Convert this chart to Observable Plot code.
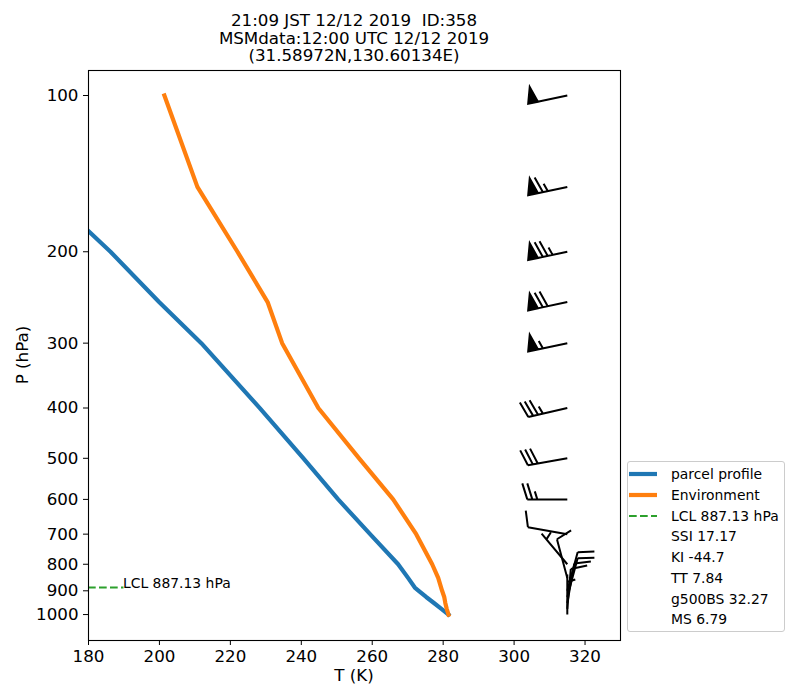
<!DOCTYPE html>
<html>
<head>
<meta charset="utf-8">
<script src="https://cdn.jsdelivr.net/npm/d3@7"></script>
<script src="https://cdn.jsdelivr.net/npm/@observablehq/plot@0.6"></script>
<style>
  body { margin: 0; background: #fff; font-family: "DejaVu Sans", sans-serif; }
  #fig { position: relative; width: 800px; height: 700px; overflow: hidden; background: #fff; }
  #fig svg { position: absolute; left: 0; top: 0; }
  .t { position: absolute; white-space: pre; color: #000; font-family: "DejaVu Sans", sans-serif; }
  .title { left: 0; top: 12px; width: 708px; text-align: center; font-size: 16.7px; line-height: 17.5px; }
  .leg { position: absolute; left: 627px; top: 461px; width: 156px; height: 169px; border: 1px solid #cccccc; border-radius: 3px; background: rgba(255,255,255,0.8); }
  .row { position: absolute; left: 0; height: 20px; line-height: 20px; font-size: 13.9px; white-space: pre; }
  .row svg { position: absolute; left: 5px; top: 0; }
  .row span { position: absolute; left: 43px; top: 0; }
</style>
</head>
<body>
<div id="fig"></div>
<script>
// ---- data ----
const titleLines = ["21:09 JST 12/12 2019  ID:358", "MSMdata:12:00 UTC 12/12 2019", "(31.58972N,130.60134E)"];
const pressure = [1000, 975, 950, 925, 900, 850, 800, 700, 600, 500, 400, 300, 250, 200, 150, 100];
const envT = [281.5, 281.0, 280.6, 280.3, 279.7, 278.6, 276.9, 272.4, 265.9, 256.3, 244.8, 234.6, 230.5, 222.0, 210.7, 201.4];
const parcelP = [1000, 975, 950, 925, 900, 887.13, 850, 800, 700, 600, 500, 400, 300, 250, 200, 150, 100];
const parcelT = [281.5, 279.5, 277.4, 275.2, 273.1, 272.0, 270.1, 267.3, 259.4, 250.4, 240.6, 228.3, 211.8, 199.9, 186.2, 166.8, 140.0];
const windDir = [0, 5, 10, 15, 15, 345, 320, 280, 270, 260, 257, 258, 258, 258, 258, 258];
const windSpd = [5, 10, 10, 10, 10, 10, 5, 10, 25, 30, 35, 55, 70, 75, 65, 50];
const barbT = 315;
const lclP = 887.13;
const lclRangeT = [180, 190];
const lclLabel = "LCL 887.13 hPa";
const indexLabels = ["SSI 17.17", "KI -44.7", "TT 7.84", "g500BS 32.27", "MS 6.79"];
const seriesLabels = ["parcel profile", "Environment"];
const xTicks = [180, 200, 220, 240, 260, 280, 300, 320];
const yTicks = [100, 200, 300, 400, 500, 600, 700, 800, 900, 1000];
const xDomain = [180, 330];
const yDomain = [1122, 89.5];
const colors = { parcel: "#1f77b4", env: "#ff7f0e", lcl: "#2ca02c" };

// ---- tables ----
const envData = pressure.map((p, i) => ({ p, T: envT[i] }));
const parcelData = parcelP.map((p, i) => ({ p, T: parcelT[i] }));
const windData = pressure.map((p, i) => ({ p, dir: windDir[i], spd: windSpd[i] }));

// wind barb shape (matplotlib-like geometry, scaled to staff length)
function barbShape(spd) {
  return {
    draw(ctx, l) {
      const L = l, h = 0.4 * L, w = 0.25 * L, sp = 0.125 * L;
      let n = 5 * Math.floor(spd / 5 + 0.5);
      const flags = Math.floor(n / 50); n -= flags * 50;
      const full = Math.floor(n / 10); n -= full * 10;
      const half = n >= 5;
      ctx.moveTo(0, 0);
      ctx.lineTo(0, -L);
      let off = L;
      for (let i = 0; i < flags; i++) {
        if (off !== L) off += sp / 2;
        ctx.moveTo(0, -off);
        ctx.lineTo(h, -(off - w / 2));
        ctx.lineTo(0, -(off - w));
        ctx.closePath();
        off -= w + sp;
      }
      for (let i = 0; i < full; i++) {
        ctx.moveTo(0, -off);
        ctx.lineTo(h, -(off + w / 2));
        off -= sp;
      }
      if (half) {
        if (off === L) off -= 1.5 * sp;
        ctx.moveTo(0, -off);
        ctx.lineTo(h / 2, -(off + w / 4));
      }
    }
  };
}

const speeds = Array.from(new Set(windSpd));
const barbMarks = speeds.map(s => Plot.vector(windData.filter(d => d.spd === s), {
  x: () => barbT, y: "p", rotate: "dir", length: 40, anchor: "start",
  shape: barbShape(s), stroke: "black", fill: "black", strokeWidth: 2,
  strokeLinejoin: "miter", strokeLinecap: "butt"
}));

const chart = Plot.plot({
  width: 800, height: 700,
  marginLeft: 88, marginRight: 180, marginTop: 70, marginBottom: 60,
  style: { fontFamily: "DejaVu Sans, sans-serif", fontSize: "16.7px", color: "black", background: "transparent", overflow: "visible" },
  x: { domain: xDomain, ticks: xTicks, tickFormat: d => String(d), tickSize: 5, tickPadding: 5, label: null },
  y: { type: "log", domain: yDomain, ticks: yTicks, tickFormat: d => String(d), tickSize: 5, tickPadding: 5, label: null },
  marks: [
    Plot.line(parcelData, { x: "T", y: "p", stroke: colors.parcel, strokeWidth: 4.2, strokeLinejoin: "round", strokeLinecap: "square", clip: true }),
    Plot.line(envData, { x: "T", y: "p", stroke: colors.env, strokeWidth: 4.2, strokeLinejoin: "round", strokeLinecap: "square", clip: true }),
    Plot.ruleY([lclP], { x1: lclRangeT[0], x2: lclRangeT[1], stroke: colors.lcl, strokeWidth: 2.08, strokeDasharray: "7.7,3.3" }),
    Plot.text([lclP], { x: lclRangeT[1], y: d => d, text: () => lclLabel, textAnchor: "start", lineAnchor: "bottom", fontSize: 13.9, fill: "black", dx: -1 }),
    ...barbMarks,
    Plot.frame({ stroke: "black", strokeWidth: 1.1 })
  ]
});

const fig = document.getElementById("fig");
fig.appendChild(chart);

// title (one multi-line block)
const title = document.createElement("div");
title.className = "t title";
title.textContent = titleLines.join("\n");
fig.appendChild(title);

// axis labels
const xl = document.createElement("div");
xl.className = "t";
xl.style.cssText = "left:0;width:708px;text-align:center;top:665px;font-size:16.7px;line-height:20px;";
xl.textContent = "T (K)";
fig.appendChild(xl);

const yl = document.createElement("div");
yl.className = "t";
yl.style.cssText = "left:-78px;top:345px;width:200px;text-align:center;font-size:16.7px;line-height:20px;transform:rotate(-90deg);";
yl.textContent = "P (hPa)";
fig.appendChild(yl);

// legend
const leg = document.createElement("div");
leg.className = "leg";
fig.appendChild(leg);
const entries = [
  { label: seriesLabels[0], color: colors.parcel, w: 4.2, dash: null },
  { label: seriesLabels[1], color: colors.env, w: 4.2, dash: null },
  { label: lclLabel, color: colors.lcl, w: 2.08, dash: "7.7,3.3" },
  ...indexLabels.map(l => ({ label: l, color: null }))
];
entries.forEach((e, i) => {
  const r = document.createElement("div");
  r.className = "row";
  r.style.top = (2 + i * 20.75) + "px";
  r.style.width = "156px";
  if (e.color) {
    const ns = "http://www.w3.org/2000/svg";
    const s = document.createElementNS(ns, "svg");
    s.setAttribute("width", 30); s.setAttribute("height", 20);
    const ln = document.createElementNS(ns, "line");
    ln.setAttribute("x1", 1); ln.setAttribute("x2", 29);
    ln.setAttribute("y1", 10); ln.setAttribute("y2", 10);
    ln.setAttribute("stroke", e.color); ln.setAttribute("stroke-width", e.w);
    if (e.dash) ln.setAttribute("stroke-dasharray", e.dash);
    s.appendChild(ln);
    r.appendChild(s);
  }
  const sp = document.createElement("span");
  sp.textContent = e.label;
  r.appendChild(sp);
  leg.appendChild(r);
});
</script>
</body>
</html>
